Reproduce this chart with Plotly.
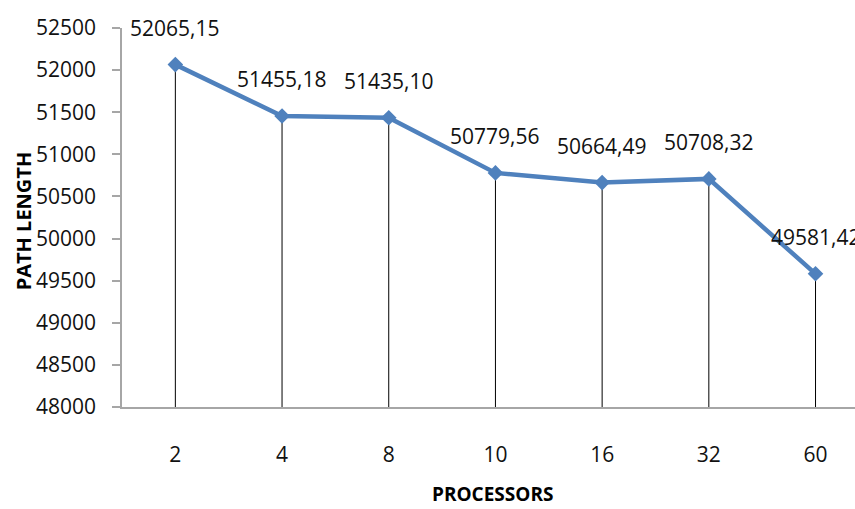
import plotly.graph_objects as go

# Path length reached for each processor count
processors = ["2", "4", "8", "10", "16", "32", "60"]
path_length = [52065.15, 51455.18, 51435.10, 50779.56, 50664.49, 50708.32, 49581.42]
labels = ["52065,15", "51455,18", "51435,10", "50779,56", "50664,49", "50708,32", "49581,42"]
y_ticks = list(range(48000, 52501, 500))

Y_MIN, Y_MAX = 48000, 52500
FONT = "Open Sans"
LINE_BLUE = "#4F81BD"
AXIS_GREY = "#A6A6A6"
TEXT = "#111111"

fig = go.Figure()

# Vertical drop lines from each point down to the category axis
drop_x, drop_y = [], []
for p, v in zip(processors, path_length):
    drop_x += [p, p, None]
    drop_y += [Y_MIN, v, None]
fig.add_trace(go.Scatter(
    x=drop_x, y=drop_y, mode="lines",
    line=dict(color="#000000", width=1),
    hoverinfo="skip", showlegend=False,
))

# Main series
fig.add_trace(go.Scatter(
    x=processors, y=path_length, mode="lines+markers",
    line=dict(color=LINE_BLUE, width=4.5),
    marker=dict(symbol="diamond", size=12, color=LINE_BLUE),
    showlegend=False,
))

# Value labels above points (category axis positions are indices)
for i, (v, t) in enumerate(zip(path_length, labels)):
    fig.add_annotation(
        x=i, y=v, text=t, showarrow=False, yshift=37,
        xanchor="center", yanchor="middle",
        font=dict(family=FONT, size=21, color=TEXT),
    )

# Axis titles
fig.add_annotation(
    xref="paper", yref="paper", x=-0.135, y=0.49, text="<b>PATH LENGTH</b>",
    textangle=-90, showarrow=False, xanchor="center", yanchor="middle",
    font=dict(family=FONT, size=20, color="#000000"),
)
fig.add_annotation(
    xref="paper", yref="paper", x=0.506, y=-0.23, text="<b>PROCESSORS</b>",
    showarrow=False, xanchor="center", yanchor="middle",
    font=dict(family=FONT, size=19, color="#000000"),
)

fig.update_layout(
    width=855, height=509,
    margin=dict(l=122, r=0, t=28, b=102),
    paper_bgcolor="white", plot_bgcolor="white",
    font=dict(family=FONT, size=21, color=TEXT),
    xaxis=dict(
        type="category", range=[-0.5, 6.37],
        showline=True, linecolor=AXIS_GREY, linewidth=1.5,
        showgrid=False, zeroline=False, ticks="",
        ticklabelstandoff=28,
        tickfont=dict(family=FONT, size=21, color=TEXT),
    ),
    yaxis=dict(
        range=[Y_MIN, Y_MAX], tickvals=y_ticks,
        ticktext=[str(v) for v in y_ticks],
        showline=True, linecolor=AXIS_GREY, linewidth=1.5,
        ticks="outside", ticklen=8, tickcolor=AXIS_GREY, tickwidth=1.5,
        showgrid=False, zeroline=False,
        ticklabelstandoff=12,
        tickfont=dict(family=FONT, size=21, color=TEXT),
    ),
)

fig.write_html("out.html")
